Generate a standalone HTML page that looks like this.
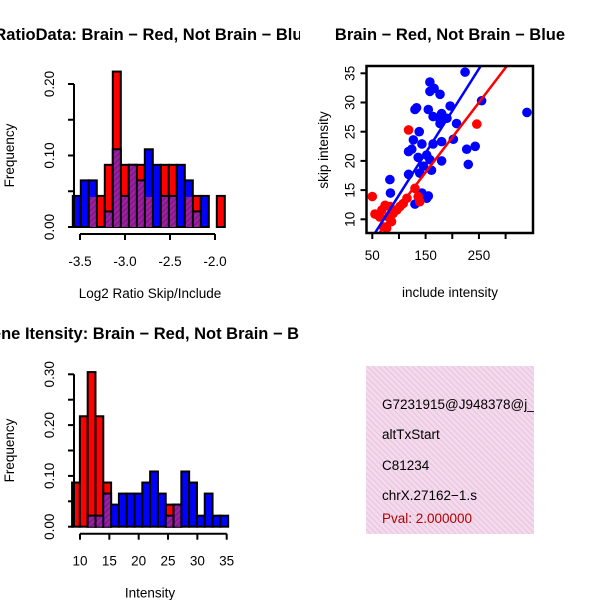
<!DOCTYPE html>
<html><head><meta charset="utf-8"><style>
html,body{margin:0;padding:0;background:#fff;}
svg{display:block;font-family:"Liberation Sans",Arial,sans-serif;}
</style></head><body>
<svg id="c" width="600" height="600" viewBox="0 0 600 600">
<defs>
<pattern id="pp" width="4" height="4" patternUnits="userSpaceOnUse" patternTransform="rotate(45)">
<rect width="4" height="4" fill="#a01fa0"/><rect width="1.5" height="4" fill="#7a1a8a"/></pattern>
<pattern id="pink" width="4" height="4" patternUnits="userSpaceOnUse" patternTransform="rotate(-45)">
<rect width="4" height="4" fill="#fbd6f2"/><rect width="1.3" height="4" fill="#dcd0d6"/></pattern>
<clipPath id="clipL"><rect x="0" y="0" width="300" height="600"/></clipPath>
<clipPath id="clipBox"><rect x="366" y="366" width="168" height="168"/></clipPath>
</defs>
<g id="p1"></g>
<g id="p2"></g>
<g id="p3"></g>
<g id="p4">
<rect x="366" y="366" width="168" height="168" fill="url(#pink)"/>
<g clip-path="url(#clipBox)" font-size="13.5">
<text x="382" y="409">G7231915@J948378@j_</text>
<text x="382" y="439">altTxStart</text>
<text x="382" y="470">C81234</text>
<text x="382" y="500">chrX.27162&#8722;1.s</text>
<text x="382" y="523" fill="#b00000">Pval: 2.000000</text>
</g></g>
</svg>
<script>
// ---- Plot 1 data: log2 ratio histogram (counts of 46)
const ratioBinStart = -3.58;
const ratioBinWidth = 0.0889;
const ratioRed  = [0,0,2,2,4,10,4,4,4,2,0,4,4,0,2,2,0,0,2];
const ratioBlue = [2,3,3,0,1,5,2,4,3,5,4,2,2,4,3,1,2,0,0];
const ratioXTicks = [-3.5,-3.0,-2.5,-2.0];
const ratioXTickLabels = ["-3.5","-3.0","-2.5","-2.0"];
const ratioYTicks = [0,0.05,0.10,0.15,0.20];
const ratioYTickLabels = ["0.00","","0.10","","0.20"];
// ---- Plot 3 data: intensity histogram
const intBinStart = 8.65;
const intBinWidth = 1.33;
const intRed  = [4,10,14,10,4,0,0,0,0,0,0,0,2,2,0,0,0,0,0,0];
const intBlue = [0,0,1,1,3,2,3,3,3,4,5,3,1,2,5,4,1,3,1,1];
const intXTicks = [10,15,20,25,30,35];
const intYTicks = [0,0.05,0.10,0.15,0.20,0.25,0.30];
const intYTickLabels = ["0.00","","0.10","","0.20","","0.30"];
const histTotal = 46;
// ---- Plot 2 data: scatter
const blueInclude = [224,158,166,158,177,133,130,155,196,255,340,180,164,177,190,177,208,138,127,143,164,180,202,124,118,227,243,136,152,158,180,230,146,161,118,139,83,84,143,155,152,130];
const blueSkip    = [35.2,33.5,32.4,31.9,31.4,29.1,28.8,28.8,29.4,30.3,28.3,28.1,27.6,27.1,27.3,26.4,26.4,25,23.6,22.9,22.9,23.3,23.7,22,21.6,22,22.5,20.6,21,20.2,20,19.4,19.1,18.4,17.7,17.9,16.8,14.5,14.5,14,13.6,12.6];
const redInclude = [118,246,50,55,68,74,83,89,102,115,130,136,139,80,86,71,77,96,108,64];
const redSkip    = [25.3,26.3,13.9,10.9,11.6,12.4,12.2,11,12.2,13.6,15.3,13.9,13,10.4,9.6,8.7,8.5,11.6,12.7,10.4];
const blueFit = [-0.28, 0.1442]; // intercept, slope
const redFit  = [0.12, 0.1195];
const scXTicks = [50,100,150,200,250,300];
const scXTickLabels = ["50","","150","","250",""];
const scYTicks = [10,15,20,25,30,35];

const NS = "http://www.w3.org/2000/svg";
const FS = 13.5;
function mk(parent, tag, attrs, text){
  const e = document.createElementNS(NS, tag);
  for (const k in attrs) e.setAttribute(k, attrs[k]);
  if (text !== undefined) e.textContent = text;
  parent.appendChild(e); return e;
}
function lin(d0,d1,r0,r1){ return v => r0 + (v-d0)/(d1-d0)*(r1-r0); }

function histogram(g, o){
  const sx = lin(o.xd[0], o.xd[1], o.xr[0], o.xr[1]);
  const sy = lin(0, o.yMax, o.y0, o.yTop);
  const layers = [[o.red,'#ff0000','red'],[o.blue,'#0000ff','blue']];
  for (const [arr,col,nm] of layers){
    arr.forEach((c,i)=>{
      if (!c) return;
      const x0 = sx(o.start + i*o.w), x1 = sx(o.start + (i+1)*o.w);
      const r = mk(g,'rect',{x:x0,y:sy(c/histTotal),width:x1-x0,height:sy(0)-sy(c/histTotal),fill:col,stroke:'#000','stroke-width':2});
      
      
    });
  }
  o.red.forEach((c,i)=>{
    const m = Math.min(c, o.blue[i]);
    if (!m) return;
    const x0 = sx(o.start + i*o.w), x1 = sx(o.start + (i+1)*o.w);
    const r = mk(g,'rect',{x:x0+1,y:sy(m/histTotal)+1,width:x1-x0-2,height:sy(0)-sy(m/histTotal)-1,fill:'url(#pp)'});
    
    
  });
  const xa = mk(g,'g',{});
  
  
  const ay = o.y0 + 7;
  mk(xa,'line',{x1:sx(o.xt[0]),x2:sx(o.xt[o.xt.length-1]),y1:ay,y2:ay,stroke:'#000','stroke-width':2});
  o.xt.forEach((t,i)=>{
    mk(xa,'line',{x1:sx(t),x2:sx(t),y1:ay,y2:ay+6,stroke:'#000','stroke-width':2});
    const tx = mk(xa,'text',{x:sx(t),y:ay+32,'text-anchor':'middle','font-size':FS},o.xl[i]);
    
    
  });
  const ya = mk(g,'g',{});
  
  
  const axx = o.xr[0] - 6;
  mk(ya,'line',{x1:axx,x2:axx,y1:sy(0),y2:sy(o.yt[o.yt.length-1]),stroke:'#000','stroke-width':2});
  o.yt.forEach((t,i)=>{
    mk(ya,'line',{x1:axx-6,x2:axx,y1:sy(t),y2:sy(t),stroke:'#000','stroke-width':2});
    if (o.yl[i]){
      const tx = mk(ya,'text',{x:0,y:0,'text-anchor':'middle','font-size':FS,transform:`translate(${axx-20},${sy(t)}) rotate(-90)`},o.yl[i]);
      
      
    }
  });
  const yt = mk(g,'text',{x:0,y:0,'text-anchor':'middle','font-size':FS,transform:`translate(14,${(o.y0+o.yTop)/2}) rotate(-90)`},'Frequency');
  
  
  const xt = mk(g,'text',{x:150,y:o.y0+71,'text-anchor':'middle','font-size':FS},o.xTitle);
  
  
  const tt = mk(g,'text',{x:o.titleX,y:o.titleY,'text-anchor':'middle','font-size':16.5,'font-weight':'bold','clip-path':'url(#clipL)'},o.title);
  
  
}

histogram(document.getElementById('p1'), {
  start: ratioBinStart, w: ratioBinWidth, red: ratioRed, blue: ratioBlue,
  xd:[-3.5,-2.0], xr:[80,215], y0:227, yTop:84, yMax:0.20,
  xt: ratioXTicks, xl: ratioXTickLabels, yt: ratioYTicks, yl: ratioYTickLabels,
  xTitle:'Log2 Ratio Skip/Include', title:'Log2 RatioData: Brain \u2212 Red, Not Brain \u2212 Blue', titleX:131, titleY:40
});
histogram(document.getElementById('p3'), {
  start: intBinStart, w: intBinWidth, red: intRed, blue: intBlue,
  xd:[10,35], xr:[80,226.7], y0:526.7, yTop:374.3, yMax:0.30,
  xt: intXTicks, xl: intXTicks.map(String), yt: intYTicks, yl: intYTickLabels,
  xTitle:'Intensity', title:'Gene Itensity: Brain \u2212 Red, Not Brain \u2212 Blue', titleX:151, titleY:339
});

(function(){
  const g = document.getElementById('p2');
  const sx = lin(50, 300, 372.3, 505.6);
  const sy = lin(10, 35, 219.3, 73.3);
  const X0=366.5, X1=533, Y0=66, Y1=233;
  const cp = mk(g,'clipPath',{id:'clipSc'});
  mk(cp,'rect',{x:X0,y:Y0,width:X1-X0,height:Y1-Y0});
  const pts = mk(g,'g',{'clip-path':'url(#clipSc)'});
  blueInclude.forEach((v,i)=>{
    const c = mk(pts,'circle',{cx:sx(v),cy:sy(blueSkip[i]),r:4.8,fill:'#0000ff'});
    
    
  });
  redInclude.forEach((v,i)=>{
    const c = mk(pts,'circle',{cx:sx(v),cy:sy(redSkip[i]),r:4.8,fill:'#ff0000'});
    
    
  });
  for (const [f,col,nm] of [[blueFit,'#0000ff','fit-line-blue'],[redFit,'#ff0000','fit-line-red']]){
    const l = mk(pts,'line',{x1:sx(0),y1:sy(f[0]),x2:sx(400),y2:sy(f[0]+f[1]*400),stroke:col,'stroke-width':2.5});
    
    
  }
  const fr = mk(g,'rect',{x:X0,y:Y0,width:X1-X0,height:Y1-Y0,fill:'none',stroke:'#000','stroke-width':2.5});
  
  
  scXTicks.forEach((t,i)=>{
    mk(g,'line',{x1:sx(t),x2:sx(t),y1:Y1,y2:Y1+6,stroke:'#000','stroke-width':2});
    if (scXTickLabels[i]){
      const tx = mk(g,'text',{x:sx(t),y:Y1+27,'text-anchor':'middle','font-size':FS},scXTickLabels[i]);
      
      
    }
  });
  scYTicks.forEach(t=>{
    mk(g,'line',{x1:X0-6,x2:X0,y1:sy(t),y2:sy(t),stroke:'#000','stroke-width':2});
    const tx = mk(g,'text',{x:0,y:0,'text-anchor':'middle','font-size':FS,transform:`translate(${X0-12},${sy(t)}) rotate(-90)`},String(t));
    
    
  });
  const xt = mk(g,'text',{x:450,y:297,'text-anchor':'middle','font-size':FS},'include intensity');
  
  
  const yt = mk(g,'text',{x:0,y:0,'text-anchor':'middle','font-size':FS,transform:`translate(328,150) rotate(-90)`},'skip intensity');
  
  
  const tt = mk(g,'text',{x:450,y:40,'text-anchor':'middle','font-size':16.5,'font-weight':'bold'},'Brain \u2212 Red, Not Brain \u2212 Blue');
  
  
})();
</script>
</body></html>
